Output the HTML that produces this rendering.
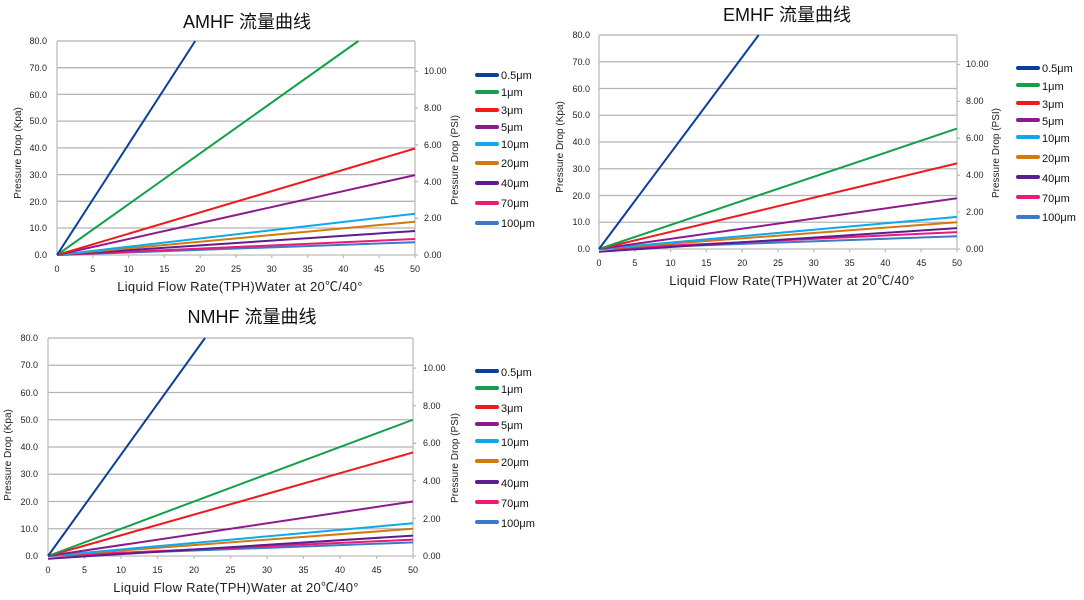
<!DOCTYPE html>
<html><head><meta charset="utf-8"><style>
html,body{margin:0;padding:0;background:#fff;}
svg{display:block;font-family:"Liberation Sans","Noto Sans CJK SC",sans-serif;}
.g{stroke:#b4b4b4;stroke-width:1.3}
.ax{stroke:#bcbcbc;stroke-width:1.3;fill:none}
.t{font-size:9px;fill:#222}
.tt{font-size:11px;fill:#222}
.lg{font-size:11px;fill:#111}
.ti{font-size:18px;fill:#111}
.xt{font-size:13px;fill:#222;letter-spacing:0.3px}
.l{stroke-width:2;fill:none}
</style></head><body>
<svg width="1084" height="600" viewBox="0 0 1084 600">
<defs></defs>

<!-- ===== Chart A ===== -->
<text class="ti" x="247" y="28" text-anchor="middle">AMHF 流量曲线</text>
<g>
<line class="g" x1="57" x2="415" y1="41" y2="41"/>
<line class="g" x1="57" x2="415" y1="67.7" y2="67.7"/>
<line class="g" x1="57" x2="415" y1="94.4" y2="94.4"/>
<line class="g" x1="57" x2="415" y1="121.1" y2="121.1"/>
<line class="g" x1="57" x2="415" y1="147.9" y2="147.9"/>
<line class="g" x1="57" x2="415" y1="174.6" y2="174.6"/>
<line class="g" x1="57" x2="415" y1="201.3" y2="201.3"/>
<line class="g" x1="57" x2="415" y1="228" y2="228"/>
<line class="ax" x1="57" x2="415" y1="255" y2="255"/>
<line class="ax" x1="57" x2="57" y1="41" y2="255"/>
<line class="ax" x1="415" x2="415" y1="41" y2="255"/>
<g class="ax"><path d="M92.8 255v3M128.6 255v3M164.4 255v3M200.2 255v3M236 255v3M271.8 255v3M307.6 255v3M343.4 255v3M379.2 255v3M415 255v3M415 218.3h3M415 181.6h3M415 144.8h3M415 108.1h3M415 71.4h3M415 255h3"/></g>
<g class="t" text-anchor="end">
<text x="47" y="44">80.0</text><text x="47" y="71">70.0</text><text x="47" y="98">60.0</text><text x="47" y="124">50.0</text><text x="47" y="151">40.0</text><text x="47" y="178">30.0</text><text x="47" y="205">20.0</text><text x="47" y="231">10.0</text><text x="47" y="258">0.0</text>
</g>
<g class="t" text-anchor="middle">
<text x="57" y="272">0</text><text x="92.8" y="272">5</text><text x="128.6" y="272">10</text><text x="164.4" y="272">15</text><text x="200.2" y="272">20</text><text x="236" y="272">25</text><text x="271.8" y="272">30</text><text x="307.6" y="272">35</text><text x="343.4" y="272">40</text><text x="379.2" y="272">45</text><text x="415" y="272">50</text>
</g>
<g class="t">
<text x="424" y="258">0.00</text><text x="424" y="221">2.00</text><text x="424" y="185">4.00</text><text x="424" y="148">6.00</text><text x="424" y="111">8.00</text><text x="424" y="74">10.00</text>
</g>
<text class="tt" transform="translate(21,153) rotate(-90)" text-anchor="middle" style="font-size:10px">Pressure Drop (Kpa)</text>
<text class="tt" transform="translate(458,160) rotate(-90)" text-anchor="middle" style="font-size:10px">Pressure Drop (PSI)</text>
<text class="xt" x="240" y="291" text-anchor="middle">Liquid Flow Rate(TPH)Water  at  20℃/40°</text>
<line class="l" stroke="#3a7ac8" x1="57" y1="255" x2="415" y2="242.2"/>
<line class="l" stroke="#ee1877" x1="57" y1="255" x2="415" y2="239"/>
<line class="l" stroke="#5a1e8e" x1="57" y1="255" x2="415" y2="231"/>
<line class="l" stroke="#d3790f" x1="57" y1="255" x2="415" y2="221.7"/>
<line class="l" stroke="#10a8ec" x1="57" y1="255" x2="415" y2="213.7"/>
<line class="l" stroke="#8e1a8e" x1="57" y1="255" x2="415" y2="175.1"/>
<line class="l" stroke="#f01a1a" x1="57" y1="255" x2="415" y2="148.5"/>
<line class="l" stroke="#12a04a" x1="57" y1="255" x2="358.4" y2="41"/>
<line class="l" stroke="#0a3f9c" x1="57" y1="255" x2="195.2" y2="41"/>
</g>
<g>
<g stroke-width="4" stroke-linecap="round">
<line stroke="#0a3f9c" x1="477" x2="497" y1="75" y2="75"/>
<line stroke="#12a04a" x1="477" x2="497" y1="92" y2="92"/>
<line stroke="#f01a1a" x1="477" x2="497" y1="110" y2="110"/>
<line stroke="#8e1a8e" x1="477" x2="497" y1="127" y2="127"/>
<line stroke="#10a8ec" x1="477" x2="497" y1="144" y2="144"/>
<line stroke="#d3790f" x1="477" x2="497" y1="163" y2="163"/>
<line stroke="#5a1e8e" x1="477" x2="497" y1="183" y2="183"/>
<line stroke="#ee1877" x1="477" x2="497" y1="203" y2="203"/>
<line stroke="#3a7ac8" x1="477" x2="497" y1="223" y2="223"/>
</g>
<g class="lg">
<text x="501" y="79">0.5μm</text><text x="501" y="96">1μm</text><text x="501" y="114">3μm</text><text x="501" y="131">5μm</text><text x="501" y="148">10μm</text><text x="501" y="167">20μm</text><text x="501" y="187">40μm</text><text x="501" y="207">70μm</text><text x="501" y="227">100μm</text>
</g>
</g>

<!-- ===== Chart E ===== -->
<text class="ti" x="787" y="21" text-anchor="middle">EMHF 流量曲线</text>
<g>
<line class="g" x1="599" x2="957" y1="35" y2="35"/>
<line class="g" x1="599" x2="957" y1="61.75" y2="61.75"/>
<line class="g" x1="599" x2="957" y1="88.5" y2="88.5"/>
<line class="g" x1="599" x2="957" y1="115.25" y2="115.25"/>
<line class="g" x1="599" x2="957" y1="142" y2="142"/>
<line class="g" x1="599" x2="957" y1="168.75" y2="168.75"/>
<line class="g" x1="599" x2="957" y1="195.5" y2="195.5"/>
<line class="g" x1="599" x2="957" y1="222.25" y2="222.25"/>
<line class="ax" x1="599" x2="957" y1="249" y2="249"/>
<line class="ax" x1="599" x2="599" y1="35" y2="249"/>
<line class="ax" x1="957" x2="957" y1="35" y2="249"/>
<g class="ax"><path d="M634.8 249v3M670.6 249v3M706.4 249v3M742.2 249v3M778 249v3M813.8 249v3M849.6 249v3M885.4 249v3M921.2 249v3M957 249v3M957 212.1h3M957 175.2h3M957 138.3h3M957 101.4h3M957 64.5h3M957 249h3"/></g>
<g class="t" text-anchor="end">
<text x="590" y="38">80.0</text><text x="590" y="65">70.0</text><text x="590" y="92">60.0</text><text x="590" y="118">50.0</text><text x="590" y="145">40.0</text><text x="590" y="172">30.0</text><text x="590" y="199">20.0</text><text x="590" y="225">10.0</text><text x="590" y="252">0.0</text>
</g>
<g class="t" text-anchor="middle">
<text x="599" y="266">0</text><text x="634.8" y="266">5</text><text x="670.6" y="266">10</text><text x="706.4" y="266">15</text><text x="742.2" y="266">20</text><text x="778" y="266">25</text><text x="813.8" y="266">30</text><text x="849.6" y="266">35</text><text x="885.4" y="266">40</text><text x="921.2" y="266">45</text><text x="957" y="266">50</text>
</g>
<g class="t">
<text x="966" y="252">0.00</text><text x="966" y="215">2.00</text><text x="966" y="178">4.00</text><text x="966" y="141">6.00</text><text x="966" y="104">8.00</text><text x="966" y="67">10.00</text>
</g>
<text class="tt" transform="translate(563,147) rotate(-90)" text-anchor="middle" style="font-size:10px">Pressure Drop (Kpa)</text>
<text class="tt" transform="translate(999,153) rotate(-90)" text-anchor="middle" style="font-size:10px">Pressure Drop (PSI)</text>
<text class="xt" x="792" y="285" text-anchor="middle">Liquid Flow Rate(TPH)Water  at  20℃/40°</text>
<line class="l" stroke="#3a7ac8" x1="599" y1="249" x2="957" y2="236.2"/>
<line class="l" stroke="#ee1877" x1="599" y1="249" x2="957" y2="232.1"/>
<line class="l" stroke="#5a1e8e" x1="599" y1="251.7" x2="957" y2="228.1"/>
<line class="l" stroke="#d3790f" x1="599" y1="249" x2="957" y2="222.25"/>
<line class="l" stroke="#10a8ec" x1="599" y1="249" x2="957" y2="216.9"/>
<line class="l" stroke="#8e1a8e" x1="599" y1="249" x2="957" y2="198.2"/>
<line class="l" stroke="#f01a1a" x1="599" y1="249" x2="957" y2="163.4"/>
<line class="l" stroke="#12a04a" x1="599" y1="249" x2="957" y2="128.6"/>
<line class="l" stroke="#0a3f9c" x1="599" y1="249" x2="758.7" y2="35"/>
</g>
<g>
<g stroke-width="4" stroke-linecap="round">
<line stroke="#0a3f9c" x1="1018" x2="1038" y1="68" y2="68"/>
<line stroke="#12a04a" x1="1018" x2="1038" y1="85" y2="85"/>
<line stroke="#f01a1a" x1="1018" x2="1038" y1="103" y2="103"/>
<line stroke="#8e1a8e" x1="1018" x2="1038" y1="120" y2="120"/>
<line stroke="#10a8ec" x1="1018" x2="1038" y1="137" y2="137"/>
<line stroke="#d3790f" x1="1018" x2="1038" y1="157" y2="157"/>
<line stroke="#5a1e8e" x1="1018" x2="1038" y1="177" y2="177"/>
<line stroke="#ee1877" x1="1018" x2="1038" y1="197" y2="197"/>
<line stroke="#3a7ac8" x1="1018" x2="1038" y1="217" y2="217"/>
</g>
<g class="lg">
<text x="1042" y="72">0.5μm</text><text x="1042" y="90">1μm</text><text x="1042" y="108">3μm</text><text x="1042" y="125">5μm</text><text x="1042" y="142">10μm</text><text x="1042" y="162">20μm</text><text x="1042" y="182">40μm</text><text x="1042" y="202">70μm</text><text x="1042" y="221">100μm</text>
</g>
</g>

<!-- ===== Chart N ===== -->
<text class="ti" x="252" y="323" text-anchor="middle">NMHF 流量曲线</text>
<g>
<line class="g" x1="48" x2="413" y1="338" y2="338"/>
<line class="g" x1="48" x2="413" y1="365.25" y2="365.25"/>
<line class="g" x1="48" x2="413" y1="392.5" y2="392.5"/>
<line class="g" x1="48" x2="413" y1="419.75" y2="419.75"/>
<line class="g" x1="48" x2="413" y1="447" y2="447"/>
<line class="g" x1="48" x2="413" y1="474.25" y2="474.25"/>
<line class="g" x1="48" x2="413" y1="501.5" y2="501.5"/>
<line class="g" x1="48" x2="413" y1="528.75" y2="528.75"/>
<line class="ax" x1="48" x2="413" y1="556" y2="556"/>
<line class="ax" x1="48" x2="48" y1="338" y2="556"/>
<line class="ax" x1="413" x2="413" y1="338" y2="556"/>
<g class="ax"><path d="M84.5 556v3M121 556v3M157.5 556v3M194 556v3M230.5 556v3M267 556v3M303.5 556v3M340 556v3M376.5 556v3M413 556v3M413 518.4h3M413 480.8h3M413 443.3h3M413 405.7h3M413 368.1h3M413 556h3"/></g>
<g class="t" text-anchor="end">
<text x="38" y="341">80.0</text><text x="38" y="368">70.0</text><text x="38" y="396">60.0</text><text x="38" y="423">50.0</text><text x="38" y="450">40.0</text><text x="38" y="477">30.0</text><text x="38" y="505">20.0</text><text x="38" y="532">10.0</text><text x="38" y="559">0.0</text>
</g>
<g class="t" text-anchor="middle">
<text x="48" y="573">0</text><text x="84.5" y="573">5</text><text x="121" y="573">10</text><text x="157.5" y="573">15</text><text x="194" y="573">20</text><text x="230.5" y="573">25</text><text x="267" y="573">30</text><text x="303.5" y="573">35</text><text x="340" y="573">40</text><text x="376.5" y="573">45</text><text x="413" y="573">50</text>
</g>
<g class="t">
<text x="423" y="559">0.00</text><text x="423" y="522">2.00</text><text x="423" y="484">4.00</text><text x="423" y="446">6.00</text><text x="423" y="409">8.00</text><text x="423" y="371">10.00</text>
</g>
<text class="tt" transform="translate(11,455) rotate(-90)" text-anchor="middle" style="font-size:10px">Pressure Drop (Kpa)</text>
<text class="tt" transform="translate(458,458) rotate(-90)" text-anchor="middle" style="font-size:10px">Pressure Drop (PSI)</text>
<text class="xt" x="236" y="592" text-anchor="middle">Liquid Flow Rate(TPH)Water  at  20℃/40°</text>
<line class="l" stroke="#3a7ac8" x1="48" y1="556" x2="413" y2="542.4"/>
<line class="l" stroke="#ee1877" x1="48" y1="556" x2="413" y2="539.65"/>
<line class="l" stroke="#5a1e8e" x1="48" y1="558.7" x2="413" y2="535.6"/>
<line class="l" stroke="#d3790f" x1="48" y1="556" x2="413" y2="528.75"/>
<line class="l" stroke="#10a8ec" x1="48" y1="556" x2="413" y2="523.3"/>
<line class="l" stroke="#8e1a8e" x1="48" y1="556" x2="413" y2="501.5"/>
<line class="l" stroke="#f01a1a" x1="48" y1="556" x2="413" y2="452.45"/>
<line class="l" stroke="#12a04a" x1="48" y1="556" x2="413" y2="419.75"/>
<line class="l" stroke="#0a3f9c" x1="48" y1="556" x2="205" y2="338"/>
</g>
<g>
<g stroke-width="4" stroke-linecap="round">
<line stroke="#0a3f9c" x1="477" x2="497" y1="371" y2="371"/>
<line stroke="#12a04a" x1="477" x2="497" y1="388" y2="388"/>
<line stroke="#f01a1a" x1="477" x2="497" y1="407" y2="407"/>
<line stroke="#8e1a8e" x1="477" x2="497" y1="424" y2="424"/>
<line stroke="#10a8ec" x1="477" x2="497" y1="441" y2="441"/>
<line stroke="#d3790f" x1="477" x2="497" y1="461" y2="461"/>
<line stroke="#5a1e8e" x1="477" x2="497" y1="482" y2="482"/>
<line stroke="#ee1877" x1="477" x2="497" y1="502" y2="502"/>
<line stroke="#3a7ac8" x1="477" x2="497" y1="522" y2="522"/>
</g>
<g class="lg">
<text x="501" y="376">0.5μm</text><text x="501" y="393">1μm</text><text x="501" y="412">3μm</text><text x="501" y="429">5μm</text><text x="501" y="446">10μm</text><text x="501" y="466">20μm</text><text x="501" y="487">40μm</text><text x="501" y="507">70μm</text><text x="501" y="527">100μm</text>
</g>
</g>
</svg>
</body></html>
